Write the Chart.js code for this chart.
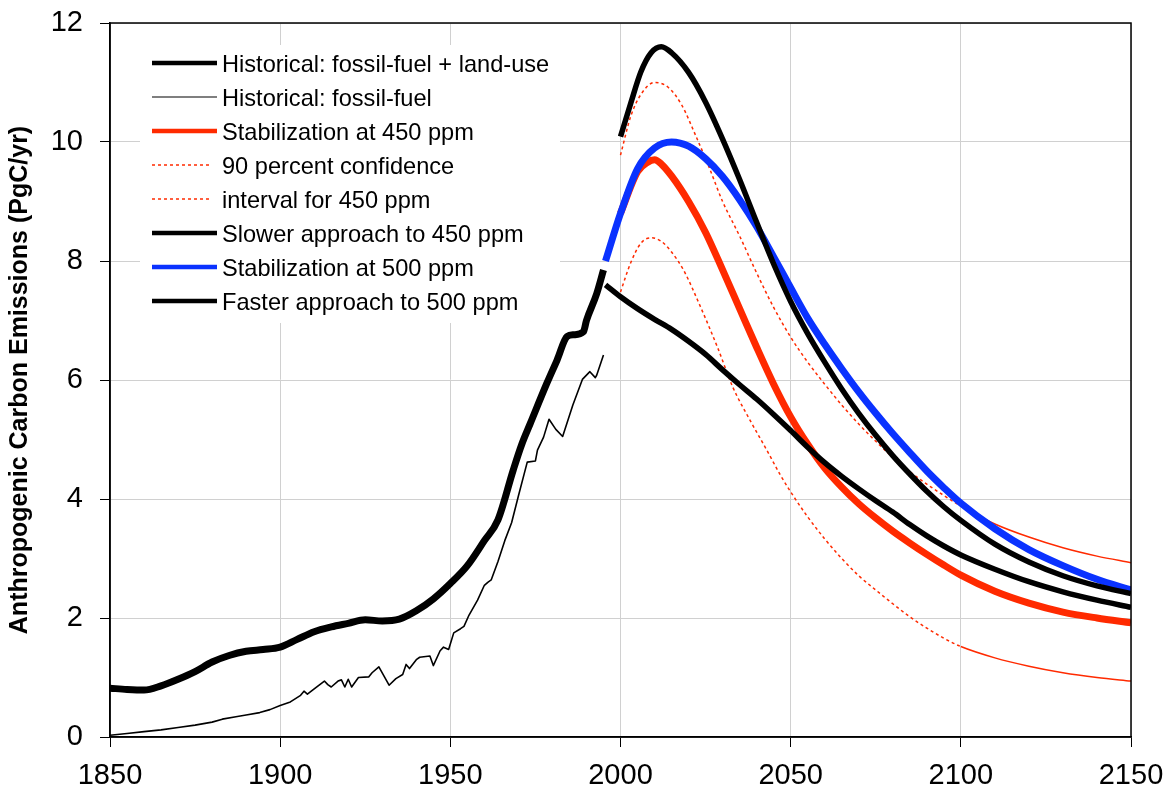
<!DOCTYPE html>
<html>
<head>
<meta charset="utf-8">
<script src="https://cdn.jsdelivr.net/npm/chart.js@4.4.1/dist/chart.umd.min.js"></script>
<style>
  html, body { margin: 0; padding: 0; background: #fff; }
  #wrap { width: 1170px; height: 795px; }
</style>
</head>
<body>
<div id="wrap"><canvas id="myChart"></canvas></div>
<script>
// tick labels
const xTicks = [1850, 1900, 1950, 2000, 2050, 2100, 2150];
const yTicks = [0, 2, 4, 6, 8, 10, 12];

// historical: fossil-fuel + land-use
const histYears = [1850, 1855, 1860, 1865, 1870, 1875, 1880, 1885, 1890, 1895, 1900, 1905, 1910, 1915, 1920, 1925, 1930, 1935, 1940, 1945, 1950, 1955, 1960, 1964, 1968.5, 1971, 1973.5, 1978.4, 1981.4, 1984.3, 1986.3, 1989.1, 1990, 1993, 1995];
const histTotal = [0.82, 0.80, 0.79, 0.86, 0.97, 1.10, 1.26, 1.37, 1.44, 1.47, 1.51, 1.64, 1.77, 1.85, 1.91, 1.97, 1.95, 1.98, 2.12, 2.32, 2.58, 2.88, 3.30, 3.65, 4.49, 4.92, 5.27, 5.95, 6.34, 6.73, 6.76, 6.81, 7.00, 7.45, 7.85];

// historical: fossil-fuel only
const ffYears = [1850, 1855, 1860, 1865, 1870, 1875, 1880, 1883, 1887, 1890, 1894, 1897, 1900, 1903, 1906, 1907, 1908, 1910, 1913, 1914, 1915, 1917, 1918, 1919, 1920, 1921, 1923, 1926, 1927, 1929, 1932, 1934, 1936, 1937, 1938, 1940, 1941, 1944, 1945, 1947, 1948, 1949.5, 1951, 1953, 1954, 1955.5, 1957, 1958, 1960, 1961, 1962, 1964, 1966, 1968, 1970, 1972.6, 1975, 1975.6, 1977.4, 1979, 1981, 1983, 1986, 1988.8, 1991, 1992.6, 1993, 1995];
const ffValues = [0.03, 0.06, 0.09, 0.12, 0.16, 0.20, 0.25, 0.30, 0.34, 0.37, 0.41, 0.46, 0.53, 0.59, 0.70, 0.77, 0.72, 0.81, 0.94, 0.88, 0.84, 0.94, 0.96, 0.84, 0.97, 0.84, 1.00, 1.01, 1.08, 1.18, 0.87, 0.98, 1.05, 1.22, 1.15, 1.30, 1.34, 1.36, 1.20, 1.45, 1.51, 1.47, 1.75, 1.82, 1.86, 2.05, 2.20, 2.30, 2.55, 2.60, 2.64, 2.95, 3.30, 3.60, 4.05, 4.62, 4.64, 4.82, 5.04, 5.34, 5.17, 5.05, 5.58, 6.01, 6.14, 6.04, 6.08, 6.42];

// stabilization at 450 ppm
const s450Years = [2000, 2005, 2008, 2010, 2012, 2015, 2020, 2025, 2030, 2035, 2040, 2045, 2050, 2055, 2060, 2065, 2070, 2075, 2080, 2085, 2090, 2095, 2100, 2110, 2120, 2130, 2140, 2150];
const s450 = [8.80, 9.50, 9.66, 9.70, 9.63, 9.43, 9.00, 8.48, 7.85, 7.20, 6.55, 5.93, 5.38, 4.92, 4.52, 4.20, 3.92, 3.68, 3.46, 3.26, 3.07, 2.89, 2.72, 2.45, 2.25, 2.10, 2.00, 1.92];

// 90 percent confidence interval for 450 ppm
const ciHighYears = [2000, 2003, 2006, 2010, 2014, 2018, 2022, 2026, 2030, 2035, 2040, 2045, 2050, 2055, 2060, 2065, 2070, 2075, 2080, 2085, 2090, 2095, 2100, 2110, 2120, 2130, 2140, 2150];
const ciHigh = [9.78, 10.43, 10.80, 11.00, 10.92, 10.62, 10.12, 9.58, 9.00, 8.42, 7.80, 7.22, 6.72, 6.30, 5.93, 5.58, 5.26, 4.97, 4.70, 4.46, 4.25, 4.06, 3.88, 3.58, 3.36, 3.18, 3.04, 2.93];
const ciLowYears = [2000, 2003, 2006, 2009, 2012, 2015, 2018.5, 2023.5, 2028.5, 2033, 2038, 2043, 2047, 2050, 2055, 2060, 2065, 2070, 2075, 2080, 2085, 2090, 2095, 2100, 2110, 2120, 2130, 2140, 2150];
const ciLow = [7.48, 7.97, 8.30, 8.39, 8.33, 8.15, 7.85, 7.23, 6.55, 5.88, 5.33, 4.82, 4.40, 4.12, 3.70, 3.33, 3.00, 2.71, 2.47, 2.24, 2.02, 1.83, 1.66, 1.52, 1.33, 1.19, 1.08, 1.00, 0.94];

// slower approach to 450 ppm
const slowYears = [1995.6, 2000, 2005, 2010, 2015, 2020, 2025, 2030, 2035, 2040, 2045, 2050, 2055, 2060, 2065, 2070, 2075, 2080, 2085, 2090, 2095, 2100, 2110, 2120, 2130, 2140, 2150];
const slow450 = [7.60, 7.40, 7.20, 7.02, 6.85, 6.65, 6.43, 6.17, 5.92, 5.68, 5.42, 5.15, 4.87, 4.61, 4.38, 4.17, 3.97, 3.78, 3.57, 3.38, 3.21, 3.06, 2.82, 2.61, 2.44, 2.30, 2.18];

// stabilization at 500 ppm
const s500Years = [1995.6, 2000, 2005, 2010, 2015, 2020, 2025, 2030, 2035, 2040, 2045, 2050, 2055, 2060, 2065, 2070, 2075, 2080, 2085, 2090, 2095, 2100, 2110, 2120, 2130, 2140, 2150];
const s500 = [8.00, 8.80, 9.55, 9.90, 10.00, 9.93, 9.72, 9.42, 9.03, 8.58, 8.07, 7.55, 7.04, 6.60, 6.19, 5.80, 5.44, 5.10, 4.78, 4.47, 4.19, 3.93, 3.50, 3.15, 2.88, 2.65, 2.47];

// faster approach to 500 ppm
const fastYears = [2000, 2003, 2006, 2009, 2012, 2015, 2020, 2025, 2030, 2035, 2040, 2045, 2050, 2055, 2060, 2065, 2070, 2075, 2080, 2085, 2090, 2095, 2100, 2110, 2120, 2130, 2140, 2150];
const fast500 = [10.09, 10.65, 11.18, 11.50, 11.60, 11.50, 11.17, 10.67, 10.05, 9.37, 8.65, 7.95, 7.32, 6.78, 6.30, 5.85, 5.44, 5.07, 4.73, 4.42, 4.13, 3.87, 3.64, 3.24, 2.94, 2.71, 2.54, 2.41];

const pts = (xs, ys) => xs.map((x, i) => ({ x: x, y: ys[i] }));

const RED = '#ff2a00';
const BLUE = '#0a32ff';
const FONT = "'Liberation Sans', Arial, sans-serif";

// dotted before 2100, looks solid afterwards in the original
const dotted = { borderDash: ctx => (ctx.p0.parsed.x < 2100 ? [3, 3] : []) };

const datasets = [
  { label: 'Historical: fossil-fuel + land-use', data: pts(histYears, histTotal), borderColor: '#000', borderWidth: 7, legendWidth: 4.5, cubicInterpolationMode: 'monotone', order: 1 },
  { label: 'Historical: fossil-fuel', data: pts(ffYears, ffValues), borderColor: '#000', borderWidth: 1.6, legendWidth: 1.2, order: 1 },
  { label: 'Stabilization at 450 ppm', data: pts(s450Years, s450), borderColor: RED, borderWidth: 7, legendWidth: 4.5, cubicInterpolationMode: 'monotone', order: 4 },
  { label: '90 percent confidence', data: pts(ciHighYears, ciHigh), borderColor: RED, borderWidth: 1.5, legendWidth: 1.5, legendDash: [3, 3], segment: dotted, cubicInterpolationMode: 'monotone', order: 5 },
  { label: 'interval for 450 ppm', data: pts(ciLowYears, ciLow), borderColor: RED, borderWidth: 1.5, legendWidth: 1.5, legendDash: [3, 3], segment: dotted, cubicInterpolationMode: 'monotone', order: 5 },
  { label: 'Slower approach to 450 ppm', data: pts(slowYears, slow450), borderColor: '#000', borderWidth: 5.5, legendWidth: 4.5, cubicInterpolationMode: 'monotone', order: 2 },
  { label: 'Stabilization at 500 ppm', data: pts(s500Years, s500), borderColor: BLUE, borderWidth: 7, legendWidth: 4.5, cubicInterpolationMode: 'monotone', order: 3 },
  { label: 'Faster approach to 500 ppm', data: pts(fastYears, fast500), borderColor: '#000', borderWidth: 5.5, legendWidth: 4.5, cubicInterpolationMode: 'monotone', order: 2 },
];

// legend drawn inside the plot, with a white box behind it; plus the frame
const insideLegend = {
  id: 'insideLegend',
  beforeDatasetsDraw(chart) {
    const { ctx, chartArea } = chart;
    const x0 = chartArea.left;
    const y0 = chartArea.top;
    ctx.save();
    ctx.fillStyle = '#fff';
    ctx.fillRect(x0 + 30, y0 + 22, 420, 278);
    ctx.font = '23.6px ' + FONT;
    ctx.textBaseline = 'middle';
    chart.data.datasets.forEach((ds, i) => {
      const y = y0 + 40 + i * 34;
      ctx.beginPath();
      ctx.setLineDash(ds.legendDash || []);
      ctx.strokeStyle = ds.borderColor;
      ctx.lineWidth = ds.legendWidth;
      ctx.moveTo(x0 + 42, y);
      ctx.lineTo(x0 + (ds.legendDash ? 100 : 107), y);
      ctx.stroke();
      ctx.setLineDash([]);
      ctx.fillStyle = '#000';
      ctx.fillText(ds.label, x0 + 112, y + 2);
    });
    ctx.restore();
  },
  afterDraw(chart) {
    const { ctx, chartArea } = chart;
    ctx.save();
    ctx.strokeStyle = '#000';
    ctx.lineWidth = 1.5;
    ctx.strokeRect(chartArea.left, chartArea.top, chartArea.right - chartArea.left, chartArea.bottom - chartArea.top);
    ctx.restore();
  }
};

Chart.defaults.font.family = FONT;
Chart.defaults.color = '#000';

const ctx = document.getElementById('myChart').getContext('2d');
new Chart(ctx, {
  type: 'line',
  data: { datasets: datasets },
  options: {
    responsive: true,
    maintainAspectRatio: false,
    animation: false,
    layout: { padding: { left: 0, top: 23, right: 39, bottom: 0 } },
    elements: {
      point: { radius: 0 },
      line: { borderJoinStyle: 'round', borderCapStyle: 'butt', tension: 0 },
    },
    plugins: {
      legend: { display: false },
      tooltip: { enabled: false },
    },
    scales: {
      x: {
        type: 'linear',
        min: 1850,
        max: 2150,
        afterBuildTicks: s => { s.ticks = xTicks.map(v => ({ value: v })); },
        afterFit: s => { s.height = 58; s.paddingLeft = 0; s.paddingRight = 0; },
        ticks: { color: '#000', font: { size: 29 }, padding: 12, maxRotation: 0, callback: v => String(v) },
        grid: { color: '#d0d0d0', tickColor: '#000', tickLength: 10, lineWidth: 1 },
        border: { color: '#000', width: 1.5 },
      },
      y: {
        min: 0,
        max: 12,
        afterBuildTicks: s => { s.ticks = yTicks.map(v => ({ value: v })); },
        afterFit: s => { s.width = 110; s.paddingTop = 0; s.paddingBottom = 0; },
        ticks: { color: '#000', font: { size: 29 }, padding: 17 },
        grid: { color: '#d0d0d0', tickColor: '#000', tickLength: 10, lineWidth: 1 },
        border: { color: '#000', width: 1.5 },
        title: {
          display: true,
          text: 'Anthropogenic Carbon Emissions (PgC/yr)',
          color: '#000',
          font: { size: 25, weight: 'bold' },
          padding: { top: 5, bottom: 0 },
        },
      },
    },
  },
  plugins: [insideLegend],
});
</script>
</body>
</html>
